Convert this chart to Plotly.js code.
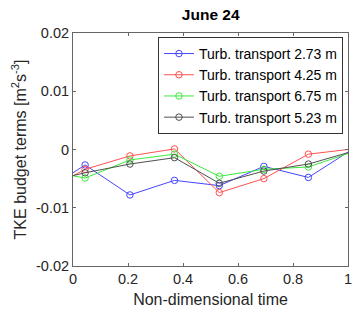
<!DOCTYPE html>
<html>
<head>
<meta charset="utf-8">
<script src="https://cdn.plot.ly/plotly-3.0.1.min.js"></script>
<style>html,body{margin:0;padding:0;background:#fff;}#chart{width:353px;height:319px;}</style>
</head>
<body>
<div id="chart"></div>
<script>
// Non-dimensional time (first and last samples lie just outside the axis range)
const timeValues = [-0.118, 0.044, 0.207, 0.369, 0.532, 0.694, 0.856, 1.018];
const seriesNames = ["Turb. transport 2.73 m", "Turb. transport 4.25 m", "Turb. transport 6.75 m", "Turb. transport 5.23 m"];
const transport273 = [-0.0076, -0.00265, -0.0078, -0.0053, -0.0062, -0.0029, -0.0048, 0.0001];
const transport425 = [-0.0075, -0.0034, -0.0011, 0.0001, -0.0074, -0.0050, -0.0008, 0.0001];
const transport675 = [-0.0035, -0.0049, -0.0018, -0.0008, -0.0046, -0.0034, -0.0030, -0.0004];
const transport523 = [-0.0058, -0.0040, -0.0025, -0.0014, -0.0058, -0.0037, -0.0025, -0.0003];
const xTickVals = [0, 0.2, 0.4, 0.6, 0.8, 1];
const xTickText = ["0", "0.2", "0.4", "0.6", "0.8", "1"];
const yTickVals = [-0.02, -0.01, 0, 0.01, 0.02];
const yTickText = ["-0.02", "-0.01", "0", "0.01", "0.02"];

const seriesValues = [transport273, transport425, transport675, transport523];
const seriesColors = ["rgb(70,70,255)", "rgb(255,80,80)", "rgb(60,235,60)", "rgb(80,80,80)"];

const traces = seriesValues.map((vals, i) => ({
  x: timeValues,
  y: vals,
  name: seriesNames[i],
  type: "scatter",
  mode: "lines+markers",
  line: {color: seriesColors[i], width: 1},
  marker: {symbol: "circle-open", size: 6.5, color: seriesColors[i], line: {width: 1, color: seriesColors[i]}},
  cliponaxis: true
}));

const FONT = "Arial, Liberation Sans, sans-serif";
const axisCommon = {
  showgrid: false,
  zeroline: false,
  showline: true,
  mirror: "ticks",
  linecolor: "#666",
  linewidth: 1,
  ticks: "inside",
  ticklen: 3,
  tickcolor: "#666",
  tickfont: {family: FONT, size: 14.5, color: "#262626"}
};

const layout = {
  width: 353,
  height: 319,
  margin: {l: 73, r: 5, t: 33, b: 53},
  paper_bgcolor: "#fff",
  plot_bgcolor: "#fff",
  font: {family: FONT, size: 12, color: "#262626"},
  title: {text: "<b>June 24</b>", x: 0.597, xanchor: "center", y: 0.955, yanchor: "middle", font: {size: 15.5, color: "#000"}},
  xaxis: Object.assign({}, axisCommon, {
    range: [0, 1],
    tickvals: xTickVals,
    ticktext: xTickText,
    title: {text: "Non-dimensional time", font: {size: 16, color: "#262626"}, standoff: 7}
  }),
  yaxis: Object.assign({}, axisCommon, {
    range: [-0.02, 0.02],
    tickvals: yTickVals,
    ticktext: yTickText,
    title: {text: "TKE budget terms [m<sup>2</sup>s<sup>-3</sup>]", font: {size: 16, color: "#262626"}, standoff: 5}
  }),
  showlegend: true,
  legend: {
    x: 0.309, y: 0.983, xanchor: "left", yanchor: "top",
    bgcolor: "#fff",
    bordercolor: "#333",
    borderwidth: 1,
    font: {family: FONT, size: 14, color: "#000"},
    itemwidth: 30,
    tracegroupgap: 0
  }
};

Plotly.newPlot("chart", traces, layout, {displayModeBar: false, staticPlot: true});
</script>
</body>
</html>
